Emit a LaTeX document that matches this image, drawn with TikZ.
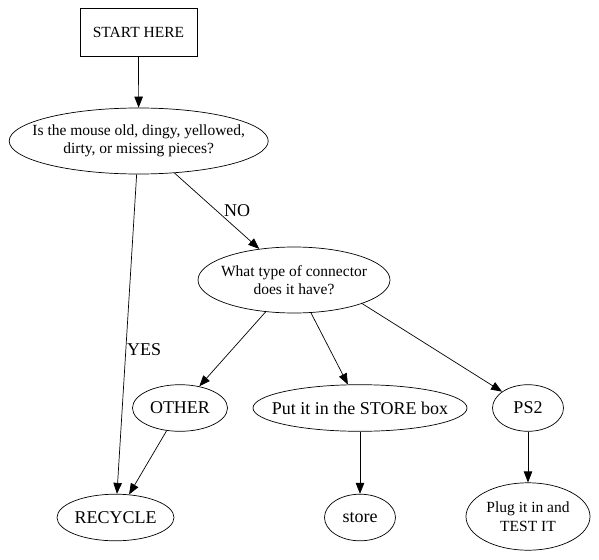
\documentclass[tikz,border=0pt]{standalone}
\usepackage{fontspec}
\setmainfont{Liberation Serif}
\usetikzlibrary{shapes.geometric, arrows.meta}

\begin{document}
\begin{tikzpicture}[
        x=1pt, y=-1pt,
        every node/.style={inner sep=0pt, align=center},
        box/.style={rectangle, draw, line width=0.7pt, minimum width=117pt, minimum height=48pt, font=\fontsize{15.5}{18.5}\selectfont},
        oval/.style={ellipse, draw, line width=0.7pt, inner xsep=-30pt, minimum height=46.6pt, font=\fontsize{18}{21}\selectfont},
        question/.style={oval, minimum height=66pt, font=\fontsize{15.5}{18.5}\selectfont},
        arrow/.style={-{Triangle[length=11pt, width=8.5pt]}, line width=0.7pt},
        answer/.style={font=\fontsize{18}{21}\selectfont}
    ]
        \useasboundingbox (0,0) rectangle (599,559);

        \node[box] (start) at (138.5,32) {START HERE};
        \node[question, minimum width=259pt] (q1) at (138.7,141) {Is the mouse old, dingy, yellowed,\\dirty, or missing pieces?};
        \node[question, minimum width=192pt] (q2) at (294,280) {What type of connector\\does it have?};

        \node[oval, minimum width=95pt] (other) at (180,408) {OTHER};
        \node[oval, minimum width=214pt] (storebox) at (360,408) {Put it in the STORE box};
        \node[oval, minimum width=71pt] (ps2) at (528,408) {PS2};

        \node[oval, minimum width=117pt] (recycle) at (115.5,517.5) {RECYCLE};
        \node[oval, minimum width=71pt] (store) at (360,517.5) {store};
        \node[question, minimum width=124pt, minimum height=67.4pt] (plug) at (528,516.5) {Plug it in and\\TEST IT};

        \draw[arrow] (start) -- (q1);
        \draw[arrow] (q1) -- node[answer, pos=.5, right=7pt] {NO} (q2);
        \draw[arrow] (q1) -- node[answer, pos=.55, right=1pt] {YES} (recycle);
        \draw[arrow] (q2) -- (other);
        \draw[arrow] (q2) -- (storebox);
        \draw[arrow] (q2.south east) -- (ps2);
        \draw[arrow] (other) -- (recycle);
        \draw[arrow] (storebox) -- (store);
        \draw[arrow] (ps2) -- (plug);
    \end{tikzpicture}
\end{document}
